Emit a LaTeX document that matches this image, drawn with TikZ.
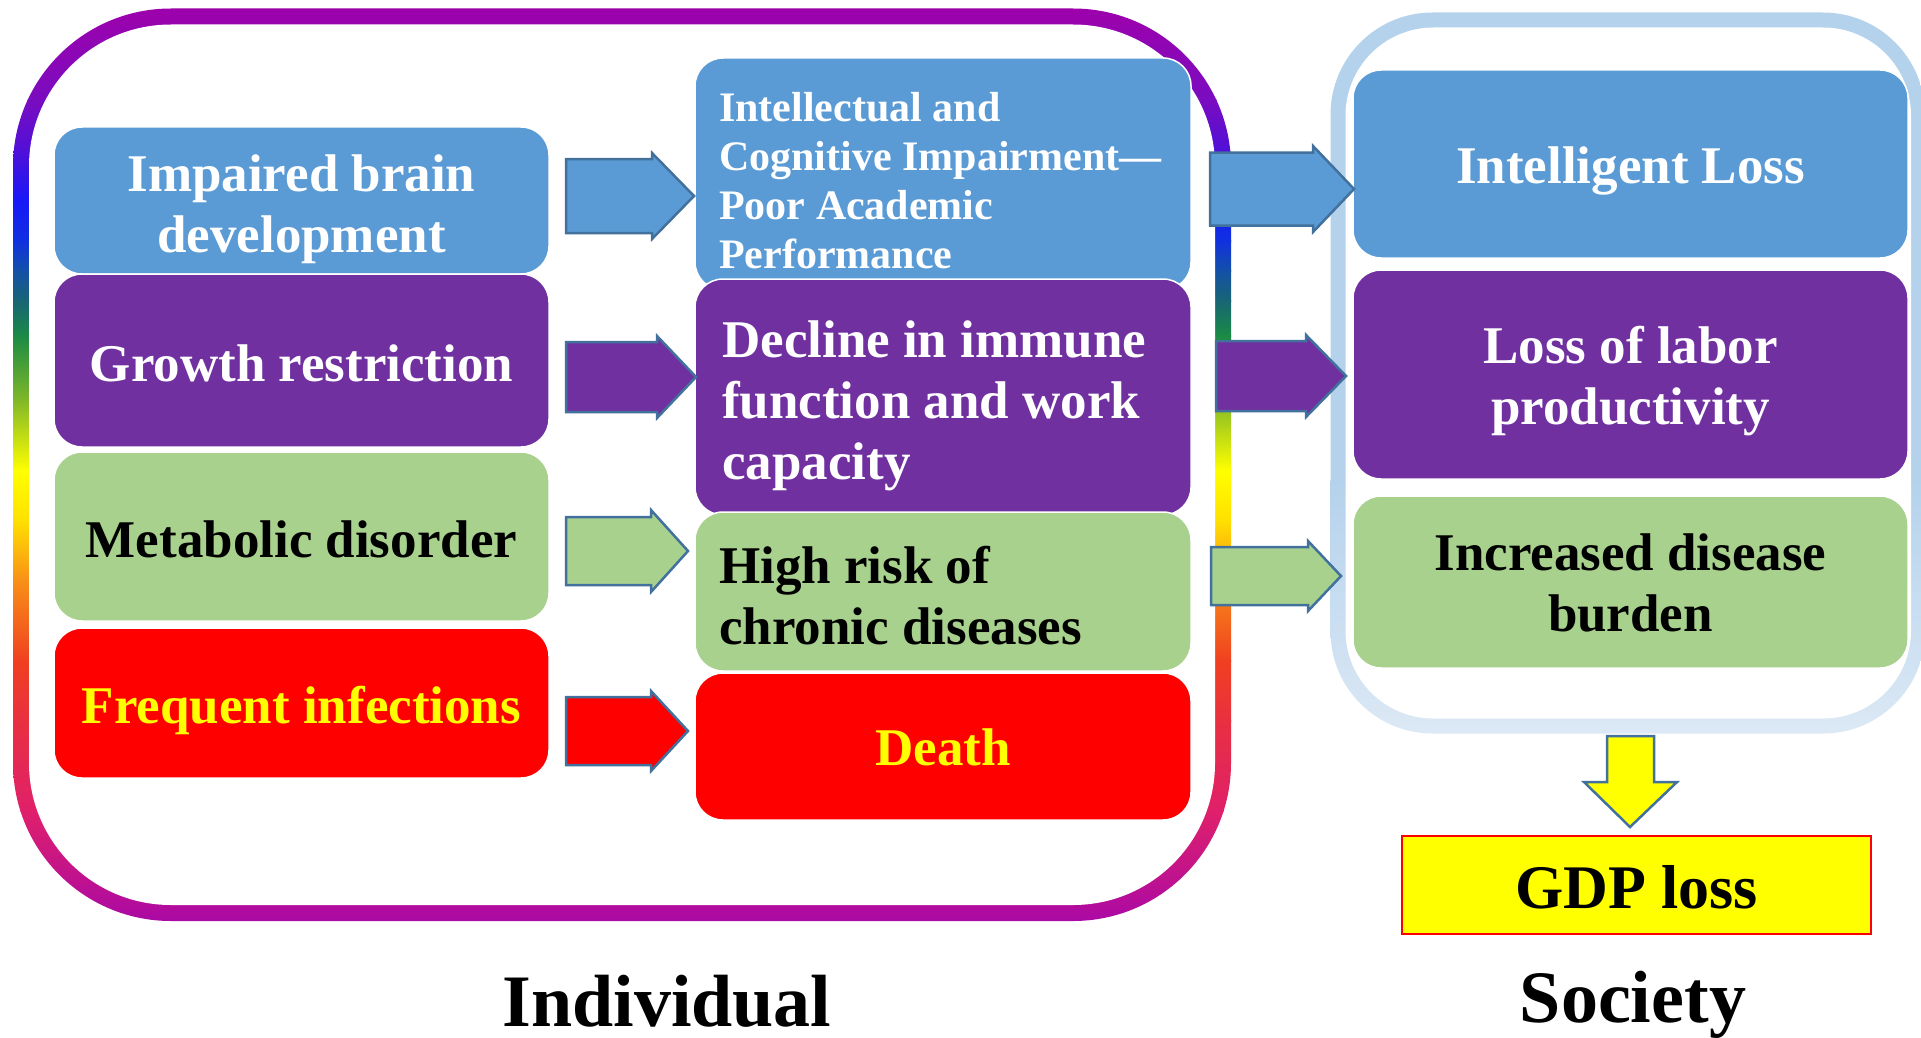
\documentclass[tikz,border=0pt]{standalone}
\usepackage{fontspec}
\setmainfont{Liberation Serif}
\definecolor{cblue}{HTML}{5B9BD5}
\definecolor{cpurple}{HTML}{7030A0}
\definecolor{cgreen}{HTML}{A9D18E}
\definecolor{cred}{HTML}{FF0000}
\definecolor{cyel}{HTML}{FFFF00}
\definecolor{aline}{HTML}{41719C}
\definecolor{sfA}{HTML}{B4D2EC}
\definecolor{sfB}{HTML}{DDE9F5}
\definecolor{g1}{HTML}{A000AA}
\definecolor{g2}{HTML}{7A0CC0}
\definecolor{g3}{HTML}{5010D8}
\definecolor{g4}{HTML}{1818F8}
\definecolor{g5}{HTML}{1030E0}
\definecolor{g6}{HTML}{1450A8}
\definecolor{g7}{HTML}{186575}
\definecolor{g8}{HTML}{1A8A45}
\definecolor{g9}{HTML}{80B828}
\definecolor{g10}{HTML}{FFFF00}
\definecolor{g11}{HTML}{FFE000}
\definecolor{g12}{HTML}{F89018}
\definecolor{g13}{HTML}{F04020}
\definecolor{g14}{HTML}{E83040}
\definecolor{g15}{HTML}{E0206A}
\definecolor{g16}{HTML}{A808A8}
\tikzset{
  box/.style={rounded corners=28pt, draw=white, line width=1.5pt, inner sep=0pt},
  lbl/.style={font=\bfseries\fontsize{53}{61}\selectfont, align=center, inner sep=0pt},
  mlbl/.style={font=\bfseries\fontsize{53}{61}\selectfont, align=left, anchor=west, inner sep=0pt},
  barrow/.style={draw=aline, line width=2.5pt, line join=miter},
  bigtitle/.style={font=\bfseries\fontsize{74}{80}\selectfont, anchor=base, inner sep=0pt},
}
\newcommand\blockarrow[7]{%
  \filldraw[barrow, fill=#1] (#2,#5-#6) -- (#3,#5-#6) -- (#3,#5-#7) -- (#4,#5)
    -- (#3,#5+#7) -- (#3,#5+#6) -- (#2,#5+#6) -- cycle;}
\begin{document}
\begin{tikzpicture}[x=1pt,y=-1pt]
\useasboundingbox[fill=white] (0,0) rectangle (1921,1038);

% left (Individual) frame with rainbow gradient stroke
\begin{scope}
  \clip[rounded corners=158pt] (13,8.5) rectangle (1231,921);
  \foreach \ya/\ca/\yb/\cb in {0/g1/100/g2, 100/g2/150/g3, 150/g3/200/g4, 200/g4/240/g5,
     240/g5/270/g6, 270/g6/300/g7, 300/g7/335/g8, 335/g8/400/g9, 400/g9/470/g10,
     470/g10/520/g11, 520/g11/580/g12, 580/g12/660/g13, 660/g13/720/g14,
     720/g14/810/g15, 810/g15/925/g16}{
    \shade[top color=\ca, bottom color=\cb] (0,\ya) rectangle (1240,\yb+1);
  }
\end{scope}
\fill[white, rounded corners=142pt] (29,24.5) rectangle (1215,905);

% right (Society) frame
\begin{scope}
  \clip[rounded corners=102pt] (1330.5,12.5) rectangle (1925,733.5);
  \fill[sfA] (1320,0) rectangle (1930,481);
  \shade[top color=sfA, bottom color=sfB] (1320,480) rectangle (1930,740);
\end{scope}
\fill[white, rounded corners=88pt] (1345.5,27.5) rectangle (1911,718.5);

% left column
\node[box, fill=cblue, minimum width=495pt, minimum height=147pt] (l1) at (301.5,200.5) {};
\node[box, fill=cpurple, minimum width=495pt, minimum height=173pt] (l2) at (301.5,360.5) {};
\node[box, fill=cgreen, minimum width=495pt, minimum height=169pt] (l3) at (301.5,536.5) {};
\node[box, fill=cred, minimum width=495pt, minimum height=150pt] (l4) at (301.5,703) {};
\node[lbl, text=white] (l1t) at ([yshift=-8.5pt]l1.center) {Impaired brain\\development};
\node[lbl, text=white] (l2t) at ([yshift=-2.5pt]l2.center) {Growth restriction};
\node[lbl, text=black] (l3t) at ([yshift=-2.5pt]l3.center) {Metabolic disorder};
\node[lbl, text=cyel] (l4t) at ([yshift=-7pt]l4.center) {Frequent infections};

% middle column
\node[box, fill=cblue, minimum width=496pt, minimum height=232pt] (m1) at (943,174) {};
\node[box, fill=cpurple, minimum width=496pt, minimum height=236pt] (m2) at (943,397) {};
\node[box, fill=cgreen, minimum width=496pt, minimum height=159pt] (m3) at (943,591.5) {};
\node[box, fill=cred, minimum width=496pt, minimum height=147pt] (m4) at (943,746.5) {};
\node[mlbl, text=white, font=\bfseries\fontsize{42}{49}\selectfont] (t1) at (719,180.5) {Intellectual and\\Cognitive Impairment—\\Poor Academic\\Performance};
\node[mlbl, text=white] (t2) at (722,406) {Decline in immune\\function and work\\capacity};
\node[mlbl, text=black] (t3) at (719,596) {High risk of\\chronic diseases};
\node[lbl, text=cyel] (t4) at ([yshift=-1pt]m4.center) {Death};

% right column
\node[box, fill=cblue, minimum width=555pt, minimum height=188pt] (r1) at (1630.5,164) {};
\node[box, fill=cpurple, minimum width=555pt, minimum height=209pt] (r2) at (1630.5,374.5) {};
\node[box, fill=cgreen, minimum width=555pt, minimum height=172pt] (r3) at (1630.5,582) {};
\node[lbl, text=white] (r1t) at ([yshift=-7pt]r1.center) {Intelligent Loss};
\node[lbl, text=white] (r2t) at ([yshift=-7pt]r2.center) {Loss of labor\\productivity};
\node[lbl, text=black] (r3t) at ([yshift=-1pt]r3.center) {Increased disease\\burden};

% block arrows
\blockarrow{cblue}{566}{652}{694}{196}{37}{43}
\blockarrow{cpurple}{566}{657}{696}{377}{35}{41}
\blockarrow{cgreen}{566}{651}{688}{551}{34}{41}
\blockarrow{cred}{566}{651}{688}{731}{34}{40}
\blockarrow{cblue}{1210}{1313}{1354}{189}{36.5}{43}
\blockarrow{cpurple}{1216}{1306}{1346}{376}{35}{41}
\blockarrow{cgreen}{1211}{1308}{1341}{576}{29}{35}

% down arrow and GDP box
\filldraw[barrow, fill=cyel] (1607,736) -- (1654,736) -- (1654,782) -- (1677,782)
  -- (1630,827) -- (1584,782) -- (1607,782) -- cycle;
\node[draw=cred, fill=cyel, line width=2pt, minimum width=469pt, minimum height=98pt] (gdp) at (1636.5,885) {};
\node[font=\bfseries\fontsize{62}{70}\selectfont, inner sep=0pt] (gdpt) at ([yshift=-2.5pt]gdp.center) {GDP loss};

% titles
\node[bigtitle, text depth=0pt] (ind) at (667,1026) {Individual};
\node[bigtitle] (soc) at (1633,1022) {Society};
\end{tikzpicture}
\end{document}
